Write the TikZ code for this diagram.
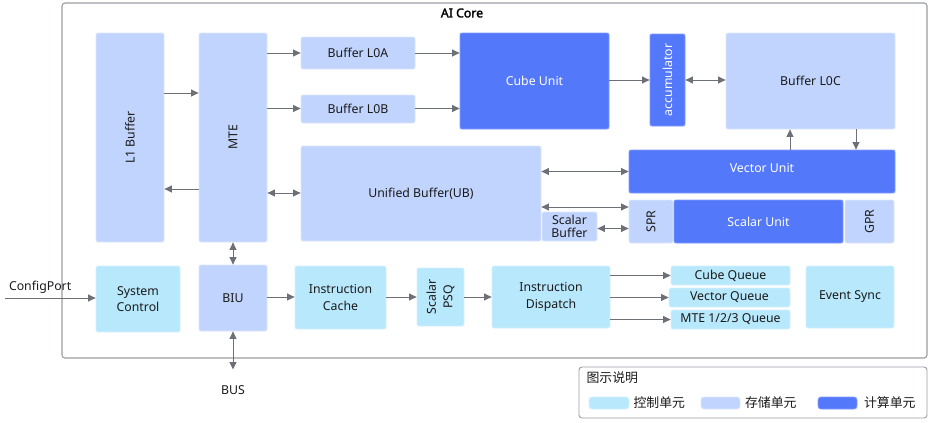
\documentclass[tikz,border=0pt]{standalone}
\usepackage{fontspec}
\setmainfont{Noto Sans}
\newfontfamily\titlefont{Noto Sans}[FakeBold=2.2]
\newfontfamily\cjk{Noto Sans CJK SC}
\usetikzlibrary{arrows.meta}
\definecolor{ctlc}{HTML}{B8E8FC}
\definecolor{storc}{HTML}{C1D4FD}
\definecolor{compc}{HTML}{5478FA}
\definecolor{arrc}{HTML}{6E7078}
\definecolor{framec}{HTML}{9A9CA3}
\definecolor{txtc}{HTML}{1A1A1A}
\begin{document}
\begin{tikzpicture}[x=1pt,y=-1pt,
  font=\fontsize{12.3}{16.3}\selectfont, text=txtc,
  blk/.style={rectangle, rounded corners=2pt, inner sep=0pt, align=center, line width=0.8pt},
  ctl/.style={blk, fill=ctlc, draw=ctlc!60!white},
  stor/.style={blk, fill=storc, draw=storc!60!white},
  comp/.style={blk, fill=compc, draw=compc!75!white, text=white},
  tip/.tip={Triangle[length=7.5pt,width=7pt]},
  arr/.style={draw=arrc, line width=0.9pt, -tip},
  darr/.style={draw=arrc, line width=0.9pt, tip-tip},
  rl/.style={rotate=90, align=center},
  rlw/.style={rotate=90, align=center, text=white},
  ]
\useasboundingbox (0,0) rectangle (929,423);

% frame
\node[draw=framec, line width=1.1pt, rounded corners=3pt, minimum width=865, minimum height=355, inner sep=0pt] (core) at (494.5,180.5) {};
\node[font=\titlefont\fontsize{12.3}{16.3}\selectfont, text=black] (title) at (462,13) {AI Core};

% storage / compute
\node[stor, minimum width=68, minimum height=209, label={[rl]center:L1 Buffer}] (l1) at (130,137.5) {};
\node[stor, minimum width=68, minimum height=209, label={[rl]center:MTE}] (mte) at (233,137.5) {};
\node[stor, minimum width=114, minimum height=32] (l0a) at (358,53) {Buffer L0A};
\node[stor, minimum width=114, minimum height=28] (l0b) at (358,109) {Buffer L0B};
\node[stor, minimum width=240, minimum height=95] (ub) at (421,193.5) {Unified Buffer(UB)};
\node[comp, minimum width=149, minimum height=96] (cube) at (534.5,81) {Cube Unit};
\node[comp, minimum width=35, minimum height=92, label={[rlw]center:accumulator}] (acc) at (667.5,80) {};
\node[stor, minimum width=169, minimum height=96] (l0c) at (810.5,81) {Buffer L0C};
\node[comp, minimum width=266, minimum height=43, label={[text=white, yshift=3.5pt]center:Vector Unit}] (vec) at (762,171.5) {};
\node[stor, minimum width=44, minimum height=43, label={[rl]center:SPR}] (spr) at (651,221.5) {};
\node[comp, minimum width=169, minimum height=43] (scal) at (758.5,221.5) {Scalar Unit};
\node[stor, minimum width=49, minimum height=43, label={[rl]center:GPR}] (gpr) at (869.5,221.5) {};
\node[stor, minimum width=55, minimum height=29, font=\fontsize{12.3}{13.3}\selectfont] (sbuf) at (569.5,226.5) {Scalar\\Buffer};

% bottom row
\node[ctl, minimum width=84, minimum height=66] (sys) at (138,299) {System\\Control};
\node[stor, minimum width=68, minimum height=66] (biu) at (233,298) {BIU};
\node[ctl, minimum width=91, minimum height=63] (icache) at (340.5,297.5) {Instruction\\Cache};
\node[ctl, minimum width=47, minimum height=58, label={[rl]center:Scalar\\PSQ}] (psq) at (440.5,297) {};
\node[ctl, minimum width=118, minimum height=62] (disp) at (551,297) {Instruction\\Dispatch};
\node[ctl, minimum width=119, minimum height=19] (cq) at (730.5,275.5) {Cube Queue};
\node[ctl, minimum width=121, minimum height=19] (vq) at (729.5,297.5) {Vector Queue};
\node[ctl, minimum width=119, minimum height=19] (mq) at (730.5,319.5) {MTE 1/2/3 Queue};
\node[ctl, minimum width=88, minimum height=62] (evs) at (850,297) {Event Sync};

% external
\coordinate (cfg) at (5,298);
\node[anchor=west] (cfgl) at (5.5,287.5) {ConfigPort};
\coordinate (busend) at (233,369.5);
\node (busl) at (233,390.5) {BUS};

% connectors
\draw[arr] (mte.east |- l0a.west) -- (l0a.west);
\draw[arr] (mte.east |- 0,108.5) -- (l0b.west |- 0,108.5);
\draw[arr] (l0a.east) -- (cube.west |- l0a.east);
\draw[arr] (l0b.east |- 0,108.5) -- (cube.west |- 0,108.5);
\draw[arr] (l1.east |- 0,93) -- (mte.west |- 0,93);
\draw[arr] (mte.west |- 0,189) -- (l1.east |- 0,189);
\draw[darr] (mte.east |- 0,193) -- (ub.west |- 0,193);
\draw[arr] (cube.east |- acc.west) -- (acc.west);
\draw[darr] (acc.east) -- (l0c.west |- acc.east);
\draw[arr] (vec.north -| 790,0) -- (l0c.south -| 790,0);
\draw[arr] (l0c.south -| 856,0) -- (vec.north -| 856,0);
\draw[darr] (ub.east |- vec.west) -- (vec.west);
\draw[darr] (ub.east |- 0,207) -- (spr.west |- 0,207);
\draw[darr] (sbuf.east |- 0,228.5) -- (spr.west |- 0,228.5);
\draw[darr] (mte.south) -- (biu.north);
\draw[arr] (cfg) -- (sys.west |- cfg);
\draw[arr] (biu.east |- 0,297) -- (icache.west |- 0,297);
\draw[arr] (icache.east |- 0,297) -- (psq.west |- 0,297);
\draw[arr] (psq.east |- 0,297) -- (disp.west |- 0,297);
\draw[arr] (disp.east |- cq.west) -- (cq.west);
\draw[arr] (disp.east |- vq.west) -- (vq.west);
\draw[arr] (disp.east |- mq.west) -- (mq.west);
\draw[darr] (biu.south) -- (busend);

% legend
\node[draw=framec, line width=0.9pt, rounded corners=3pt, minimum width=348, minimum height=51, inner sep=0pt] (leg) at (753,392.5) {};
\node[anchor=west, font=\cjk\fontsize{12.9}{14}\selectfont] (legt) at (583,377.5) {图示说明};
\node[ctl, minimum width=40, minimum height=12, rounded corners=3pt] (sw1) at (609,403) {};
\node[stor, minimum width=39, minimum height=12, rounded corners=3pt] (sw2) at (720.5,403) {};
\node[comp, minimum width=39, minimum height=12, rounded corners=3pt] (sw3) at (837.5,403) {};
\node[anchor=west, font=\cjk\fontsize{12.9}{14}\selectfont] (lt1) at (630,403) {控制单元};
\node[anchor=west, font=\cjk\fontsize{12.9}{14}\selectfont] (lt2) at (741.5,403) {存储单元};
\node[anchor=west, font=\cjk\fontsize{12.9}{14}\selectfont] (lt3) at (860.5,403) {计算单元};
\end{tikzpicture}
\end{document}
